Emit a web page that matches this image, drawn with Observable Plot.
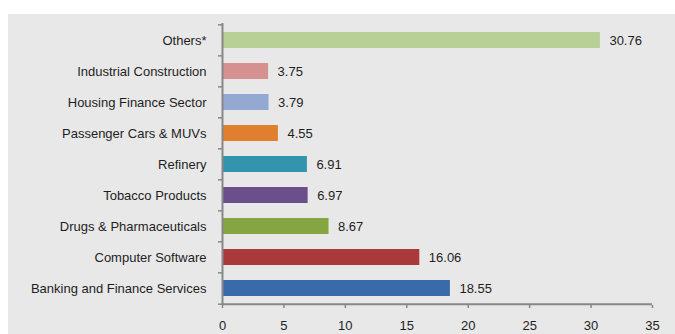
<!DOCTYPE html>
<html>
<head>
<meta charset="utf-8">
<script src="https://cdn.jsdelivr.net/npm/d3@7"></script>
<script src="https://cdn.jsdelivr.net/npm/@observablehq/plot@0.6"></script>
<style>
  html, body { margin: 0; padding: 0; background: #ffffff; }
  #wrap { padding: 14px 0 0 8px; width: 667px; height: 320px; }
  #wrap svg { display: block; }
</style>
</head>
<body>
<div id="wrap"></div>
<script>
const categories = [
  "Banking and Finance Services",
  "Computer Software",
  "Drugs & Pharmaceuticals",
  "Tobacco Products",
  "Refinery",
  "Passenger Cars & MUVs",
  "Housing Finance Sector",
  "Industrial Construction",
  "Others*"
];
const values = [18.55, 16.06, 8.67, 6.97, 6.91, 4.55, 3.79, 3.75, 30.76];
const colors = ["#386ba8", "#aa3a39", "#85a542", "#6b4f8c", "#3395ad", "#e07f2e", "#93a9d1", "#d49190", "#b8cf96"];
const xTicks = [0, 5, 10, 15, 20, 25, 30, 35];

const rows = categories.map((c, i) => ({category: c, value: values[i]}));

const W = 667, H = 320, ML = 214, MR = 23, MT = 9, MB = 29;
const step = (H - MT - MB) / categories.length;
const axisGray = "#878787";
const textColor = "#1e1e1e";

const chart = Plot.plot({
  width: W, height: H,
  marginLeft: ML, marginRight: MR, marginTop: MT, marginBottom: MB,
  style: {background: "#e8e8e8", fontFamily: "'Liberation Sans', Arial, sans-serif", fontSize: "13px", color: textColor},
  x: {domain: [0, 35]},
  y: {domain: categories.slice().reverse(), paddingInner: 0.49, paddingOuter: 0.245},
  color: {domain: categories, range: colors},
  marks: [
    Plot.barX(rows, {x: "value", y: "category", fill: "category"}),
    Plot.text(rows, {x: "value", y: "category", text: d => d.value.toFixed(2), dx: 9, textAnchor: "start", fill: textColor}),
    Plot.axisX(xTicks, {tickSize: 3, tickPadding: 12, stroke: axisGray, fill: textColor, strokeWidth: 1.5, label: null}),
    Plot.axisY({tickSize: 0, tickPadding: 16, stroke: axisGray, fill: textColor, label: null}),
    Plot.axisY(categories, {text: null, tickSize: 4, dy: -step / 2, stroke: axisGray, strokeWidth: 1.5, label: null}),
    Plot.axisY([categories[0]], {text: null, tickSize: 4, dy: step / 2, stroke: axisGray, strokeWidth: 1.5, label: null}),
    Plot.ruleX([0], {stroke: axisGray, strokeWidth: 2}),
    Plot.ruleY([categories[0]], {x1: 0, x2: 35, dy: step / 2, stroke: axisGray, strokeWidth: 2})
  ]
});
document.getElementById("wrap").appendChild(chart);
</script>
</body>
</html>
